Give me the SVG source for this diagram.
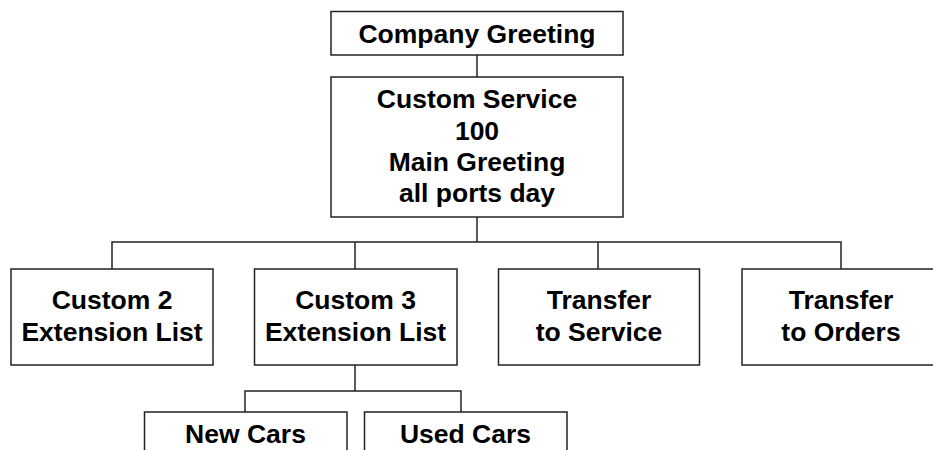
<svg xmlns="http://www.w3.org/2000/svg" width="933" height="450" viewBox="0 0 933 450">
<style>
.box{fill:#fff;stroke:#222;stroke-width:1.5}
.lbl{font-family:"Liberation Sans",Arial,Helvetica,sans-serif;font-weight:bold;font-size:26.5px;fill:#000;text-anchor:middle}
.conn{fill:none;stroke:#222;stroke-width:1.5}
</style>
<rect width="933" height="450" fill="#fff"/>
<g id="connectors" class="conn">
<path d="M477 55V77"/>
<path d="M477 217V242"/>
<path d="M112 269V242H841V269"/>
<path d="M355 242V269"/>
<path d="M598 242V269"/>
<path d="M355 365V391"/>
<path d="M245 412V391H461V412"/>
</g>
<g id="company-greeting">
<rect class="box" x="331" y="11.5" width="292" height="43.5"/>
<text class="lbl" x="477" y="43">Company Greeting</text>
</g>
<g id="custom-service">
<rect class="box" x="331" y="77" width="292" height="140"/>
<text class="lbl" x="477" y="108">Custom Service</text>
<text class="lbl" x="477" y="139.5">100</text>
<text class="lbl" x="477" y="171">Main Greeting</text>
<text class="lbl" x="477" y="202">all ports day</text>
</g>
<g id="custom2">
<rect class="box" x="11" y="269" width="202" height="96"/>
<text class="lbl" x="112" y="308.5">Custom 2</text>
<text class="lbl" x="112" y="340.5">Extension List</text>
</g>
<g id="custom3">
<rect class="box" x="254.5" y="269" width="202.5" height="96"/>
<text class="lbl" x="355.5" y="308.5">Custom 3</text>
<text class="lbl" x="355.5" y="340.5">Extension List</text>
</g>
<g id="transfer-service">
<rect class="box" x="498.5" y="269" width="201" height="96"/>
<text class="lbl" x="599" y="308.5">Transfer</text>
<text class="lbl" x="599" y="340.5">to Service</text>
</g>
<g id="transfer-orders">
<rect class="box" x="742" y="269" width="200" height="96"/>
<text class="lbl" x="841" y="308.5">Transfer</text>
<text class="lbl" x="841" y="340.5">to Orders</text>
</g>
<g id="new-cars">
<rect class="box" x="144.5" y="412" width="202.5" height="50"/>
<text class="lbl" x="245.5" y="443">New Cars</text>
</g>
<g id="used-cars">
<rect class="box" x="364.5" y="412" width="202.5" height="50"/>
<text class="lbl" x="465.5" y="443">Used Cars</text>
</g>
</svg>
